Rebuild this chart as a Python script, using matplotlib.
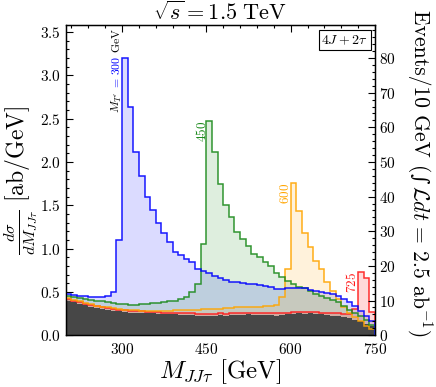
import numpy as np
import matplotlib
matplotlib.use("Agg")
import matplotlib.pyplot as plt
from matplotlib.ticker import MultipleLocator, FuncFormatter

plt.rcParams['mathtext.fontset'] = 'cm'
plt.rcParams['font.family'] = 'serif'
plt.rcParams['font.serif'] = ['DejaVu Serif']
plt.rcParams['axes.unicode_minus'] = False

# 10 GeV bins from 200 to 750 GeV
mass_edges = list(range(200, 751, 10))

background = [0.40, 0.38, 0.36, 0.345, 0.33, 0.315, 0.30, 0.29, 0.28, 0.275,
              0.27, 0.26, 0.26, 0.255, 0.25, 0.25, 0.245, 0.24, 0.24, 0.24,
              0.235, 0.23, 0.23, 0.225, 0.22, 0.22, 0.225, 0.23, 0.225, 0.23,
              0.235, 0.23, 0.24, 0.235, 0.23, 0.235, 0.23, 0.225, 0.235, 0.24,
              0.245, 0.25, 0.245, 0.25, 0.245, 0.24, 0.235, 0.225, 0.22, 0.21,
              0.195, 0.18, 0.16, 0.13, 0.10]

sig_300 = [0.47, 0.46, 0.455, 0.45, 0.445, 0.44, 0.44, 0.45, 0.50, 1.10,
           3.20, 2.64, 2.11, 1.84, 1.60, 1.44, 1.30, 1.18, 1.07, 0.955,
           0.92, 0.875, 0.84, 0.76, 0.74, 0.72, 0.68, 0.655, 0.64, 0.615,
           0.61, 0.60, 0.59, 0.59, 0.58, 0.57, 0.56, 0.53, 0.53, 0.54,
           0.545, 0.545, 0.54, 0.52, 0.51, 0.50, 0.49, 0.47, 0.45, 0.415,
           0.38, 0.34, 0.28, 0.22, 0.165]

sig_450 = [0.45, 0.44, 0.43, 0.42, 0.41, 0.40, 0.39, 0.38, 0.37, 0.36,
           0.355, 0.35, 0.35, 0.355, 0.36, 0.37, 0.375, 0.38, 0.39, 0.40,
           0.42, 0.44, 0.50, 0.59, 1.05, 2.47, 2.11, 1.74, 1.50, 1.36,
           1.19, 1.11, 1.03, 0.935, 0.90, 0.84, 0.80, 0.72, 0.67, 0.62,
           0.59, 0.56, 0.54, 0.51, 0.47, 0.45, 0.43, 0.41, 0.385, 0.34,
           0.29, 0.26, 0.22, 0.18, 0.12]

sig_600 = [0.43, 0.41, 0.39, 0.37, 0.355, 0.34, 0.33, 0.32, 0.31, 0.30,
           0.295, 0.29, 0.285, 0.28, 0.28, 0.28, 0.28, 0.28, 0.28, 0.285,
           0.285, 0.29, 0.29, 0.295, 0.30, 0.30, 0.30, 0.305, 0.31, 0.31,
           0.32, 0.32, 0.325, 0.33, 0.33, 0.335, 0.34, 0.345, 0.44, 0.76,
           1.76, 1.435, 1.18, 1.02, 0.86, 0.76, 0.61, 0.51, 0.415, 0.33,
           0.26, 0.21, 0.165, 0.11, 0.07]

sig_725 = [0.42, 0.40, 0.38, 0.365, 0.35, 0.335, 0.32, 0.31, 0.30, 0.295,
           0.29, 0.28, 0.28, 0.275, 0.27, 0.27, 0.265, 0.26, 0.26, 0.26,
           0.255, 0.25, 0.25, 0.245, 0.24, 0.24, 0.245, 0.25, 0.245, 0.25,
           0.255, 0.25, 0.26, 0.255, 0.25, 0.255, 0.25, 0.25, 0.255, 0.26,
           0.265, 0.27, 0.265, 0.27, 0.265, 0.26, 0.26, 0.25, 0.25, 0.245,
           0.24, 0.30, 0.73, 0.66, 0.27]

lumi_factor = 25.0  # events per 10 GeV = dsigma/dM * 10 GeV * 2.5 ab^-1

edges = np.array(mass_edges)
series = [(sig_300, '#0000ff', '#0000ff', 0.14),
          (sig_450, '#1b8a1b', '#008000', 0.13),
          (sig_600, '#ffa500', '#ffa500', 0.14),
          (sig_725, '#ff1a1a', '#ff0000', 0.15)]

fig = plt.figure(figsize=(4.36, 3.87), dpi=100)
ax = fig.add_axes([0.151, 0.134, 0.709, 0.801])

for vals, lc, fc, a in series:
    ax.stairs(vals, edges, baseline=0, fill=True, color=fc, alpha=a, lw=0, zorder=1)
ax.stairs(background, edges, baseline=0, fill=True, color='#474747', lw=0, zorder=2)
for vals, lc, fc, a in series[::-1]:
    ax.stairs(vals, edges, baseline=0, color=lc, lw=1.1, alpha=0.9, zorder=3)

ymax = 3.58
ax.set_xlim(200, 750)
ax.set_ylim(0, ymax)

ax.xaxis.set_major_locator(MultipleLocator(150))
ax.xaxis.set_minor_locator(MultipleLocator(30))
ax.yaxis.set_major_locator(MultipleLocator(0.5))
ax.yaxis.set_minor_locator(MultipleLocator(0.1))
ax.xaxis.set_major_formatter(FuncFormatter(lambda v, p: r'$\mathbf{%d}$' % v))
ax.yaxis.set_major_formatter(FuncFormatter(lambda v, p: r'$\mathbf{%.1f}$' % v))
ax.tick_params(which='both', direction='in', top=True, right=False, labelsize=11, width=0.8)
ax.tick_params(which='major', length=5)
ax.tick_params(which='minor', length=2.5)
ax.tick_params(axis='x', pad=5)
for s in ax.spines.values():
    s.set_linewidth(1.0)

ax2 = ax.twinx()
ax2.set_ylim(0, ymax * lumi_factor)
ax2.yaxis.set_major_locator(MultipleLocator(10))
ax2.yaxis.set_minor_locator(MultipleLocator(2))
ax2.yaxis.set_major_formatter(FuncFormatter(lambda v, p: r'$\mathbf{%d}$' % v))
ax2.tick_params(which='both', direction='in', labelsize=11, width=0.8, pad=3)
ax2.tick_params(which='major', length=5)
ax2.tick_params(which='minor', length=2.5)

ax.set_xlabel(r'$M_{JJ\tau}\ \mathrm{[GeV]}$', fontsize=18, labelpad=0)
ax.set_ylabel(r'$\frac{d\sigma}{dM_{JJ\tau}}\ \mathrm{[ab/GeV]}$', fontsize=17, labelpad=0)
ax.set_title(r'$\sqrt{s} = 1.5\ \mathrm{TeV}$', fontsize=16, pad=2)

# right-hand axis label, built from three pieces so the integral sign stays small
r1 = fig.text(0.962, 0.975, 'Events/10 GeV (', family=['cmr10', 'DejaVu Serif'],
              fontsize=15.5, rotation=270, ha='center', va='top')
r2 = fig.add_artist(plt.Annotation('\u222B', xy=(0.5, 0), xycoords=r1, xytext=(0, -1),
                                   textcoords='offset points', family='DejaVu Serif',
                                   fontsize=14.5, rotation=270, ha='center', va='top'))
fig.add_artist(plt.Annotation('$\\mathcal{L}dt$ = 2.5 ab$^{-1}$)', xy=(0.5, 0), xycoords=r2,
                              xytext=(0, -1), textcoords='offset points',
                              family=['cmr10', 'DejaVu Serif'], fontsize=15.5, rotation=270,
                              ha='center', va='top'))

# peak labels
t1 = ax.text(291, 2.57, r"$M_{T'}$", rotation=90, ha='center', va='bottom',
             fontsize=8.5, color='black', zorder=5)
t2 = ax.annotate(r'$=\,300$', xy=(0.5, 1), xycoords=t1, xytext=(0, 1.5),
                 textcoords='offset points', rotation=90, ha='center', va='bottom',
                 fontsize=8.5, color='blue', zorder=5)
ax.annotate(r'$\mathrm{GeV}$', xy=(0.5, 1), xycoords=t2, xytext=(0, 2),
            textcoords='offset points', rotation=90, ha='center', va='bottom',
            fontsize=8.5, color='black', zorder=5)
ax.text(442, 2.47, r'$450$', rotation=90, ha='center', va='top', fontsize=9.5,
        color='#1b8a1b', zorder=5)
ax.text(591, 1.76, r'$600$', rotation=90, ha='center', va='top', fontsize=9.5,
        color='#ffa500', zorder=5)
ax.text(710, 0.73, r'$725$', rotation=90, ha='center', va='top', fontsize=9.5,
        color='#ff1a1a', zorder=5)

ax.text(0.977, 0.975, r'$4J + 2\tau$', transform=ax.transAxes, ha='right', va='top',
        fontsize=10, zorder=6,
        bbox=dict(boxstyle='square,pad=0.2', fc='white', ec='black', lw=0.8))

fig.savefig('out.png', dpi=100)
